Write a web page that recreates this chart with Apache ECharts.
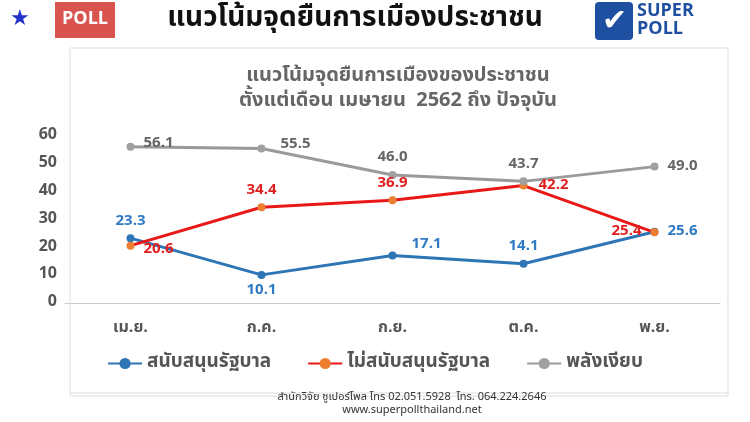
<!DOCTYPE html><html><head><meta charset="utf-8"><script src="https://cdn.jsdelivr.net/npm/echarts@6/dist/echarts.min.js"></script>
<style>body{margin:0;background:#fff}#c{width:750px;height:422px}</style></head><body><div id="c"></div><script>
const categories=['เม.ย.','ก.ค.','ก.ย.','ต.ค.','พ.ย.'];
const support=[23.3,10.1,17.1,14.1,25.6];
const oppose=[20.6,34.4,36.9,42.2,25.4];
const silent=[56.1,55.5,46.0,43.7,49.0];
const yTicks=[0,10,20,30,40,50,60];
const F='"Noto Sans Thai","Noto Sans",sans-serif';
const ch=echarts.init(document.getElementById('c'));
function lab(arr,color,pos){return arr.map((v,i)=>({value:v,label:{show:true,position:pos[i][0],offset:pos[i].slice(1),color:color,fontSize:15,fontWeight:'bold',fontFamily:F,formatter:p=>p.value.toFixed(1)}}));}
ch.setOption({
animation:false,
graphic:[
{type:'rect',shape:{x:70,y:48,width:658,height:348},style:{fill:'#fff',stroke:'#ddd',lineWidth:1}},
{type:'text',x:10,y:8,style:{text:'★',fill:'#2233cc',fontSize:22}},
{type:'rect',shape:{x:55,y:2,width:60,height:36},style:{fill:'#d9534f'}},
{type:'text',x:85,y:20,style:{text:'POLL',fill:'#fff',fontSize:18,fontWeight:'bold',fontFamily:F,align:'center',verticalAlign:'middle'}},
{type:'text',x:355,y:20,style:{text:'แนวโน้มจุดยืนการเมืองประชาชน',fill:'#111',fontSize:28,fontWeight:'bold',fontFamily:F,align:'center',verticalAlign:'middle'}},
{type:'rect',shape:{x:595,y:2,width:38,height:38,r:4},style:{fill:'#1f4fa0'}},
{type:'text',x:614,y:22,style:{text:'✔',fill:'#fff',fontSize:30,align:'center',verticalAlign:'middle'}},
{type:'text',x:637,y:3,style:{text:'SUPER',fill:'#1f4fa0',fontSize:18,fontWeight:'bold',fontFamily:F}},
{type:'text',x:637,y:21,style:{text:'POLL',fill:'#1f4fa0',fontSize:18,fontWeight:'bold',fontFamily:F}},
{type:'text',x:398,y:64,style:{text:'แนวโน้มจุดยืนการเมืองของประชาชน\nตั้งแต่เดือน เมษายน  2562 ถึง ปัจจุบัน',fill:'#666',fontSize:20,fontWeight:'bold',fontFamily:F,align:'center',lineHeight:25}},
{type:'line',shape:{x1:70,y1:393,x2:728,y2:393},style:{stroke:'#ddd'}},
{type:'text',x:412,y:404,style:{text:'สำนักวิจัย ซูเปอร์โพล โทร 02.051.5928  โทร. 064.224.2646\nwww.superpollthailand.net',fill:'#333',fontSize:11,fontFamily:F,align:'center',verticalAlign:'middle',lineHeight:13}}
],
grid:{left:65,right:30,top:136,bottom:119},
legend:{bottom:44,left:'center',itemGap:36,itemWidth:34,textStyle:{fontSize:19,fontWeight:'bold',color:'#555',fontFamily:F}},
xAxis:{type:'category',data:categories,axisLine:{lineStyle:{color:'#ccc'}},axisTick:{show:false},axisLabel:{fontSize:16,fontWeight:'bold',color:'#555',margin:18,fontFamily:F}},
yAxis:{type:'value',min:0,max:60,interval:10,splitLine:{show:false},axisLabel:{fontSize:16,fontWeight:'bold',color:'#555',fontFamily:F,formatter:v=>yTicks.includes(v)?String(v):''}},
series:[
{name:'สนับสนุนรัฐบาล',type:'line',data:lab(support,'#2e7bc4',[['top',0,0],['bottom',0,0],['right',10,-10],['top',0,0],['right',4,0]]),itemStyle:{color:'#2e75b6'},lineStyle:{width:3,color:'#2e75b6'},symbol:'circle',symbolSize:8},
{name:'ไม่สนับสนุนรัฐบาล',type:'line',data:lab(oppose,'#e02020',[['right',4,4],['top',0,0],['top',0,0],['right',6,0],['left',-4,0]]),itemStyle:{color:'#ed7d31'},lineStyle:{width:3,color:'#e81818'},symbol:'circle',symbolSize:8},
{name:'พลังเงียบ',type:'line',data:lab(silent,'#666',[['right',4,-3],['right',10,-4],['top',0,0],['top',0,0],['right',4,0]]),itemStyle:{color:'#a0a0a0'},lineStyle:{width:3,color:'#9a9a9a'},symbol:'circle',symbolSize:8}
]});
</script></body></html>
